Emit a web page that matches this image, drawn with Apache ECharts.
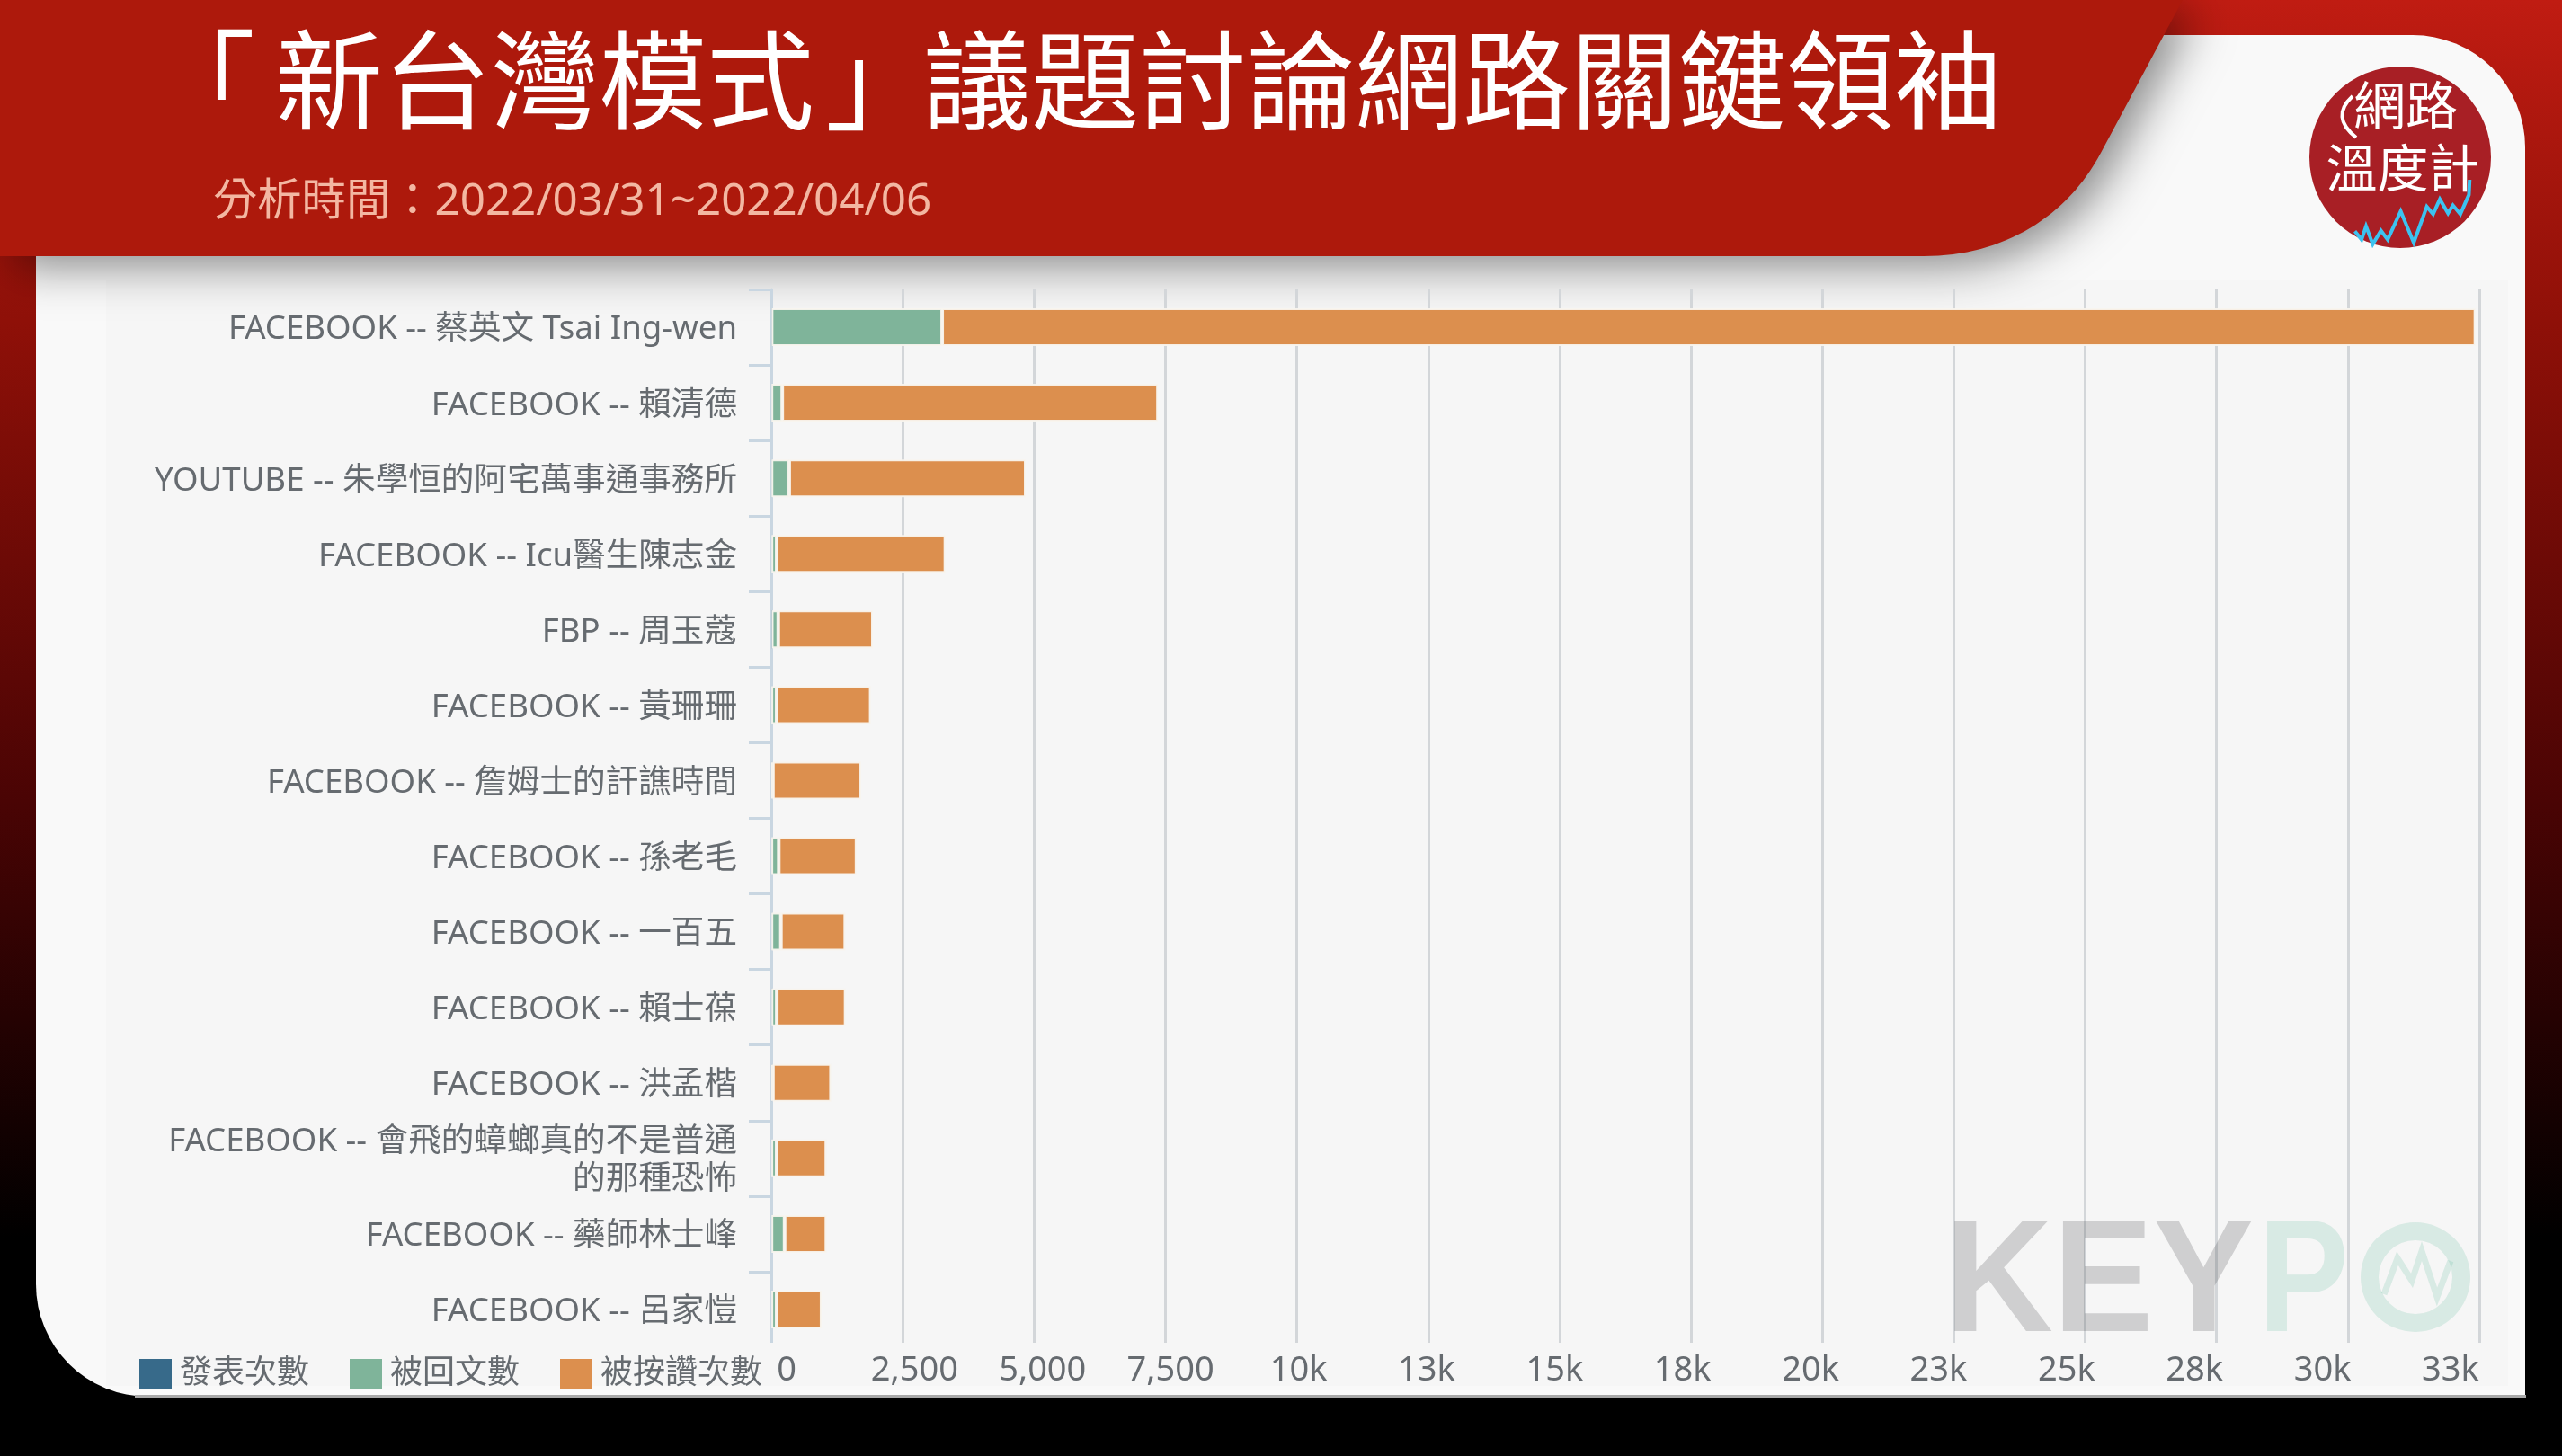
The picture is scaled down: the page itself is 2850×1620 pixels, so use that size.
<!DOCTYPE html>
<html><head><meta charset="utf-8">
<style>html,body{margin:0;padding:0;background:#000}#c{width:2850px;height:1620px}</style>
<script src="https://cdn.jsdelivr.net/npm/echarts@6/dist/echarts.min.js"></script>
</head><body><div id="c"></div>
<script>
const categories = [
 'FACEBOOK -- 蔡英文 Tsai Ing-wen','FACEBOOK -- 賴清德','YOUTUBE -- 朱學恒的阿宅萬事通事務所','FACEBOOK -- Icu醫生陳志金',
 'FBP -- 周玉蔻','FACEBOOK -- 黃珊珊','FACEBOOK -- 詹姆士的訐譙時間','FACEBOOK -- 孫老毛','FACEBOOK -- 一百五','FACEBOOK -- 賴士葆',
 'FACEBOOK -- 洪孟楷','FACEBOOK -- 會飛的蟑螂真的不是普通\n的那種恐怖','FACEBOOK -- 藥師林士峰','FACEBOOK -- 呂家愷'];
const posts   = [6,3,4,3,8,2,1,2,3,4,1,2,3,2];
const replies = [3245,205,337,100,125,100,30,140,180,100,30,100,250,100];
const likes   = [29175,7150,4500,3210,1800,1790,1680,1480,1225,1310,1105,945,795,855];
const seriesNames = ['發表次數','被回文數','被按讚次數'];
const tickLabels = ['0','2,500','5,000','7,500','10k','13k','15k','18k','20k','23k','25k','28k','30k','33k'];
const titleParts = ['「','新台灣模式','」','議題討論網路關鍵領袖'];
const subtitleText = '分析時間：2022/03/31~2022/04/06';

const FONT = '"Noto Sans","Noto Sans CJK TC",sans-serif';
const TXT = '#666b70', BG = '#f6f6f6';
const HeaderShape = echarts.graphic.extendShape({
  shape:{},
  buildPath(ctx){
    ctx.moveTo(0,0); ctx.lineTo(2428,0); ctx.lineTo(2337,170);
    ctx.bezierCurveTo(2300,240,2230,285,2140,285); ctx.lineTo(0,285); ctx.closePath();
  }
});
echarts.graphic.registerShape('headerShape', HeaderShape);
const chart = echarts.init(document.getElementById('c'), null, {renderer:'canvas', width:2850, height:1620});
const mk = (i,d,c,bw) => ({name:seriesNames[i], type:'bar', stack:'t', data:d, barWidth:42, xAxisIndex:0, yAxisIndex:0,
  itemStyle:{color:c, borderColor:'rgba(248,244,238,0.95)', borderWidth:bw}, emphasis:{disabled:true}, animation:false});
const logoLine = [[1012,772],[1030,800],[1042,755],[1060,815],[1082,770],[1100,800],[1135,705],[1170,810],[1205,690],[1222,715],[1240,665],[1262,712],[1275,685],[1295,715],[1318,650],[1320,600]]
  .map(p=>[2200+p[0]/2.412,p[1]/3]);
const titleLefts = [159,301,913,1022];

chart.setOption({
  animation:false,
  backgroundColor:'#000',
  title:titleParts.map((t,i)=>({text:t,left:titleLefts[i],top:36,textStyle:{color:'#fff',fontSize:120,fontWeight:'normal',fontFamily:FONT}}))
    .concat([{text:subtitleText,left:232,top:195,textStyle:{color:'#f3b7a2',fontSize:49.3,fontWeight:'normal',fontFamily:FONT}}]),
  legend:{left:150,top:1506,itemWidth:36,itemHeight:34,itemGap:45,data:seriesNames,icon:'rect',
    itemStyle:{borderWidth:0},selectedMode:false,
    textStyle:{color:TXT,fontSize:36,fontFamily:FONT,padding:[0,0,0,4]}},
  grid:[
    {left:858,top:322,width:1900,height:1177},
    {left:875,top:322,width:1851,height:1177},
    {left:858,top:325,width:1900,height:1177}
  ],
  xAxis:[
    {type:'value',gridIndex:0,min:0,max:32500,interval:2500,
     axisLine:{show:false},axisTick:{show:false},axisLabel:{show:false},
     splitLine:{show:true,lineStyle:{color:'#d3d6d9',width:3}}},
    {type:'value',gridIndex:1,min:0,max:32500,interval:2500,
     axisLine:{show:false},axisTick:{show:false},splitLine:{show:false},
     axisLabel:{show:true,margin:7,color:TXT,fontSize:38,fontFamily:FONT,
       showMinLabel:true,showMaxLabel:true,hideOverlap:false,alignMinLabel:'center',alignMaxLabel:'center',
       formatter:(v)=>tickLabels[Math.round(v/2500)]}},
    {type:'value',gridIndex:2,min:0,max:32500,interval:2500,show:false}
  ],
  yAxis:[
    {type:'category',gridIndex:0,data:categories,inverse:true,
     axisLine:{show:true,lineStyle:{color:'#c9d6e1',width:3}},
     axisTick:{show:true,length:25,lineStyle:{color:'#c9d6e1',width:3}},
     axisLabel:{show:false},
     splitLine:{show:false}},
    {type:'category',gridIndex:1,data:categories,inverse:true,show:false},
    {type:'category',gridIndex:2,data:categories,inverse:true,
     axisLine:{show:false},axisTick:{show:false},splitLine:{show:false},
     axisLabel:{margin:38,color:TXT,fontSize:36.6,lineHeight:42,fontFamily:FONT,align:'right',interval:0}}
  ],
  series:[mk(0,posts,'#376a8a',0),mk(1,replies,'#7fb49a',2),mk(2,likes,'#dc8f4e',2)],
  graphic:{elements:[
    {type:'rect',z:-30,shape:{x:0,y:0,width:2850,height:1620},style:{fill:new echarts.graphic.LinearGradient(0,0,0,1,[
      {offset:0,color:'#c01c12'},{offset:0.22,color:'#8f1008'},{offset:0.55,color:'#4a0404'},{offset:0.85,color:'#000'},{offset:1,color:'#000'}])}},
    {type:'rect',z:-29,shape:{x:0,y:1552,width:2850,height:68},style:{fill:'#000'}},
    {type:'rect',z:-28,shape:{x:40,y:39,width:2769,height:1515,r:[0,125,0,125]},style:{fill:'#f9f9f9'}},
    {type:'rect',z:-27,shape:{x:150,y:1552,width:2660,height:3},style:{fill:'#a8a8a8'}},
    {type:'rect',z:-26,shape:{x:118,y:312,width:2672,height:1230},style:{fill:BG}},
    {type:'headerShape',z:-20,shape:{},
     style:{fill:'#ad190c',shadowBlur:50,shadowColor:'rgba(0,0,0,0.45)',shadowOffsetX:14,shadowOffsetY:12}},
    {type:'rect',z:30,shape:{x:830,y:1494,width:1950,height:7},style:{fill:BG}},
    {type:'circle',z:40,shape:{cx:2670,cy:175,r:101},style:{fill:'#a81f25'}},
    {type:'text',z:41,x:2676,y:122,style:{text:'網路',fill:'#fff',font:'58px '+FONT,textAlign:'center',textVerticalAlign:'middle'}},
    {type:'text',z:41,x:2673,y:192,style:{text:'溫度計',fill:'#fff',font:'57px '+FONT,textAlign:'center',textVerticalAlign:'middle'}},
    {type:'bezierCurve',z:41,shape:{x1:2617,y1:107,cpx1:2592,cpy1:130,x2:2621,y2:153},style:{fill:'none',stroke:'#fff',lineWidth:4}},
    {type:'polyline',z:42,shape:{points:logoLine},style:{fill:'none',stroke:'#3cc3f0',lineWidth:4}},
    {type:'text',z:50,x:2163,y:1432,scaleX:0.94,style:{text:'KEY',fill:'rgba(70,70,75,0.22)',font:'bold 178px "Liberation Sans"',textAlign:'left',textVerticalAlign:'middle'}},
    {type:'text',z:50,x:2512,y:1432,scaleX:0.85,style:{text:'P',fill:'rgba(110,190,165,0.22)',font:'bold 178px "Liberation Sans"',textAlign:'left',textVerticalAlign:'middle'}},
    {type:'ring',z:50,shape:{cx:2687,cy:1421,r:61,r0:41},style:{fill:'rgba(110,190,165,0.22)'}},
    {type:'polyline',z:50,shape:{points:[[2652,1440],[2667,1400],[2683,1425],[2694,1392],[2711,1443],[2726,1403]]},style:{fill:'none',stroke:'rgba(110,190,165,0.22)',lineWidth:7}}
  ]}
});
</script></body></html>
